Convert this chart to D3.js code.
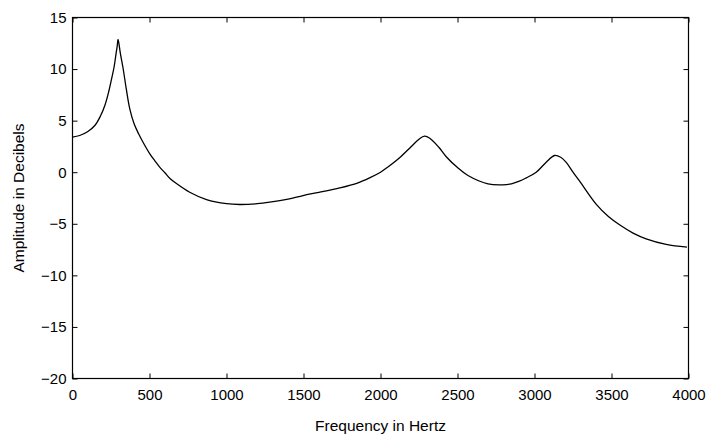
<!DOCTYPE html>
<html><head><meta charset="utf-8">
<script src="https://cdn.jsdelivr.net/npm/d3@7"></script>
<style>body{margin:0;background:#fff}svg{display:block}text{font-family:"Liberation Sans",Arial,Helvetica,sans-serif;fill:#000}</style>
</head><body>
<svg id="c" width="713" height="440"></svg>
<script>
const freq = [0,47,100,145,180,210,235,253,270,281,290,296,310,329,350,372,400,430,458,502,535,566,600,633,675,761,870,1000,1086,1200,1281,1400,1497,1600,1735,1850,1929,2000,2048,2124,2200,2250,2286,2320,2380,2427,2500,2568,2698,2794,2850,2902,2946,3011,3076,3130,3170,3206,3250,3292,3400,3480,3552,3640,3725,3855,3990];
const amp = [3.4,3.56,3.95,4.53,5.4,6.47,7.8,9.0,10.2,11.3,12.2,12.87,11.6,10.03,8.0,6.15,4.7,3.7,2.9,1.78,1.1,0.5,-0.05,-0.6,-1.1,-1.94,-2.65,-3.05,-3.13,-3.05,-2.9,-2.6,-2.26,-1.95,-1.52,-1.05,-0.55,0.0,0.5,1.4,2.5,3.2,3.5,3.3,2.4,1.5,0.45,-0.32,-1.13,-1.22,-1.12,-0.87,-0.55,0.0,0.97,1.62,1.45,0.95,0.0,-0.85,-3.1,-4.3,-5.1,-5.9,-6.46,-7.0,-7.27];
const xTicks = [0,500,1000,1500,2000,2500,3000,3500,4000];
const yTicks = [-20,-15,-10,-5,0,5,10,15];
const xLabel = "Frequency in Hertz";
const yLabel = "Amplitude in Decibels";

const svg = d3.select("#c");
const L = 72.5, R = 688.5, T = 17.5, B = 378.5;
const x = d3.scaleLinear().domain([0,4000]).range([L,R]);
const y = d3.scaleLinear().domain([-20,15]).range([B,T]);

const g = svg.append("g");
g.append("rect").attr("x",L).attr("y",T).attr("width",R-L).attr("height",B-T)
 .attr("fill","none").attr("stroke","#000").attr("stroke-width",1.2);

const tl = 5;
const xb = g.append("g").attr("transform",`translate(0,${B})`)
  .call(d3.axisBottom(x).tickValues(xTicks).tickFormat(d3.format("d")).tickSizeInner(-tl).tickSizeOuter(0).tickPadding(8));
const xt = g.append("g").attr("transform",`translate(0,${T})`)
  .call(d3.axisTop(x).tickValues(xTicks).tickFormat("").tickSizeInner(-tl).tickSizeOuter(0));
const yl = g.append("g").attr("transform",`translate(${L},0)`)
  .call(d3.axisLeft(y).tickValues(yTicks).tickFormat(d=> d<0 ? "\u2212"+Math.abs(d) : d).tickSizeInner(-tl).tickSizeOuter(0).tickPadding(6));
const yr = g.append("g").attr("transform",`translate(${R},0)`)
  .call(d3.axisRight(y).tickValues(yTicks).tickFormat("").tickSizeInner(-tl).tickSizeOuter(0));
[xb,xt,yl,yr].forEach(a=>{
  a.select(".domain").remove();
  a.selectAll("line").attr("stroke","#000");
  a.selectAll("text").attr("font-size",15).attr("font-family",'"Liberation Sans",Arial,sans-serif');
});
xb.selectAll("text").attr("dy","0.9em");

const data = freq.map((f,i)=>({f,v:amp[i]}));
g.append("path").datum(data)
 .attr("fill","none").attr("stroke","#000").attr("stroke-width",1.3)
 .attr("d", d3.line().x(d=>x(d.f)).y(d=>y(d.v)).curve(d3.curveCatmullRom.alpha(0.5)));

svg.append("text").attr("x",(L+R)/2).attr("y",431).attr("text-anchor","middle")
 .attr("font-size",15.5).text(xLabel);
svg.append("text").attr("transform",`translate(24,${(T+B)/2}) rotate(-90)`)
 .attr("text-anchor","middle").attr("font-size",15.5).text(yLabel);
</script>
</body></html>
